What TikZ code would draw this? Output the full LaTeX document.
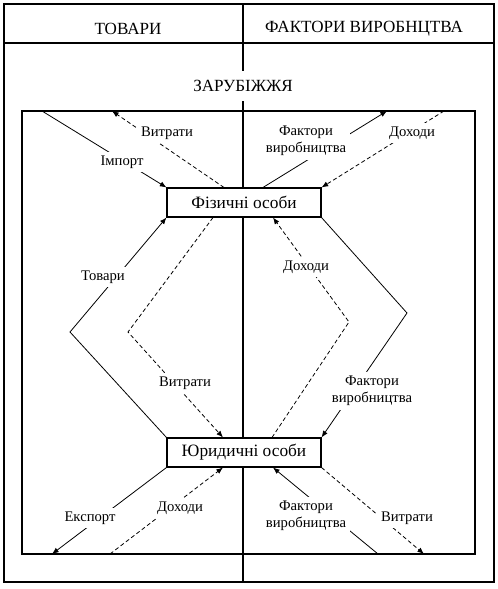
\documentclass[tikz,border=0pt]{standalone}
\usepackage{fontspec}
\setmainfont{Liberation Serif}
\usetikzlibrary{arrows.meta}
\begin{document}
\begin{tikzpicture}[x=0.75pt,y=-0.75pt,
  frame/.style={line width=1.5pt},
  inframe/.style={line width=1.1pt},
  box/.style={draw, line width=0.8pt, fill=white, minimum width=115.5pt, minimum height=21.75pt, inner sep=0pt, font=\fontsize{13}{15}\selectfont},
  hdr/.style={inner sep=2pt, font=\fontsize{12.8}{14}\selectfont},
  lbl/.style={fill=white, inner sep=3pt, font=\fontsize{11}{12.75}\selectfont, align=center},
  solidarr/.style={line width=0.6pt, -{Latex[length=5pt,width=4pt]}},
  dasharr/.style={line width=0.6pt, dash pattern=on 3pt off 2pt, -{Latex[length=5pt,width=4pt]}}
]
\useasboundingbox (0,0) rectangle (498,589);
% frames
\draw[frame] (3.5,4) rectangle (493.5,581.5);
\draw[frame] (3.5,43) -- (493.5,43);
\draw[frame] (243,4) -- (243,581.5);
\draw[inframe] (22,111) rectangle (475,554);
\node[hdr] (tov) at (128,29) {ТОВАРИ};
\node[hdr] (fak) at (364,29) {ФАКТОРИ ВИРОБНЦТВА};
\node[hdr, fill=white, minimum height=23pt] (zar) at (243,86) {ЗАРУБІЖЖЯ};
% main nodes
\node[box] (fiz) at (244,202.5) {Фізичні особи};
\node[box] (yur) at (244,452.5) {Юридичні особи};
% points on the inner frame and turning points
\coordinate (imp) at (42,111);
\coordinate (vit1) at (112,111);
\coordinate (fak1) at (387,111);
\coordinate (doh1) at (444,111);
\coordinate (tovB) at (70,332);
\coordinate (vitB) at (128,332);
\coordinate (dohB) at (349,322);
\coordinate (fakB) at (407,313);
\coordinate (eks) at (52,554);
\coordinate (doh4) at (110,554);
\coordinate (fak4) at (378,554);
\coordinate (vit4) at (424,554);
% connectors
\draw[solidarr] (imp) -- (fiz.north west);
\draw[dasharr] ([xshift=-15pt]fiz.north) -- (vit1);
\draw[solidarr] ([xshift=14.25pt]fiz.north) -- (fak1);
\draw[dasharr] (doh1) -- (fiz.north east);
\draw[solidarr] (yur.north west) -- (tovB) -- (fiz.south west);
\draw[dasharr] ([xshift=-23.25pt]fiz.south) -- (vitB) -- ([xshift=-15.75pt]yur.north);
\draw[dasharr] ([xshift=21pt]yur.north) -- (dohB) -- ([xshift=21.75pt]fiz.south);
\draw[solidarr] (fiz.south east) -- (fakB) -- (yur.north east);
\draw[solidarr] (yur.south west) -- (eks);
\draw[dasharr] (doh4) -- ([xshift=-15.75pt]yur.south);
\draw[solidarr] (fak4) -- ([xshift=21.75pt]yur.south);
\draw[dasharr] (yur.south east) -- (vit4);
% labels
\node[lbl] (l1) at (122,162) {Імпорт};
\node[lbl] (l2) at (167,133) {Витрати};
\node[lbl] (l3) at (306,141) {Фактори\\виробництва};
\node[lbl] (l4) at (412,133) {Доходи};
\node[lbl] (l5) at (103,277) {Товари};
\node[lbl] (l6) at (185,383) {Витрати};
\node[lbl] (l7) at (306,267) {Доходи};
\node[lbl] (l8) at (372,391) {Фактори\\виробництва};
\node[lbl] (l9) at (90,518) {Експорт};
\node[lbl] (l10) at (180,508) {Доходи};
\node[lbl] (l11) at (306,516) {Фактори\\виробництва};
\node[lbl] (l12) at (407,518) {Витрати};
\end{tikzpicture}
\end{document}
